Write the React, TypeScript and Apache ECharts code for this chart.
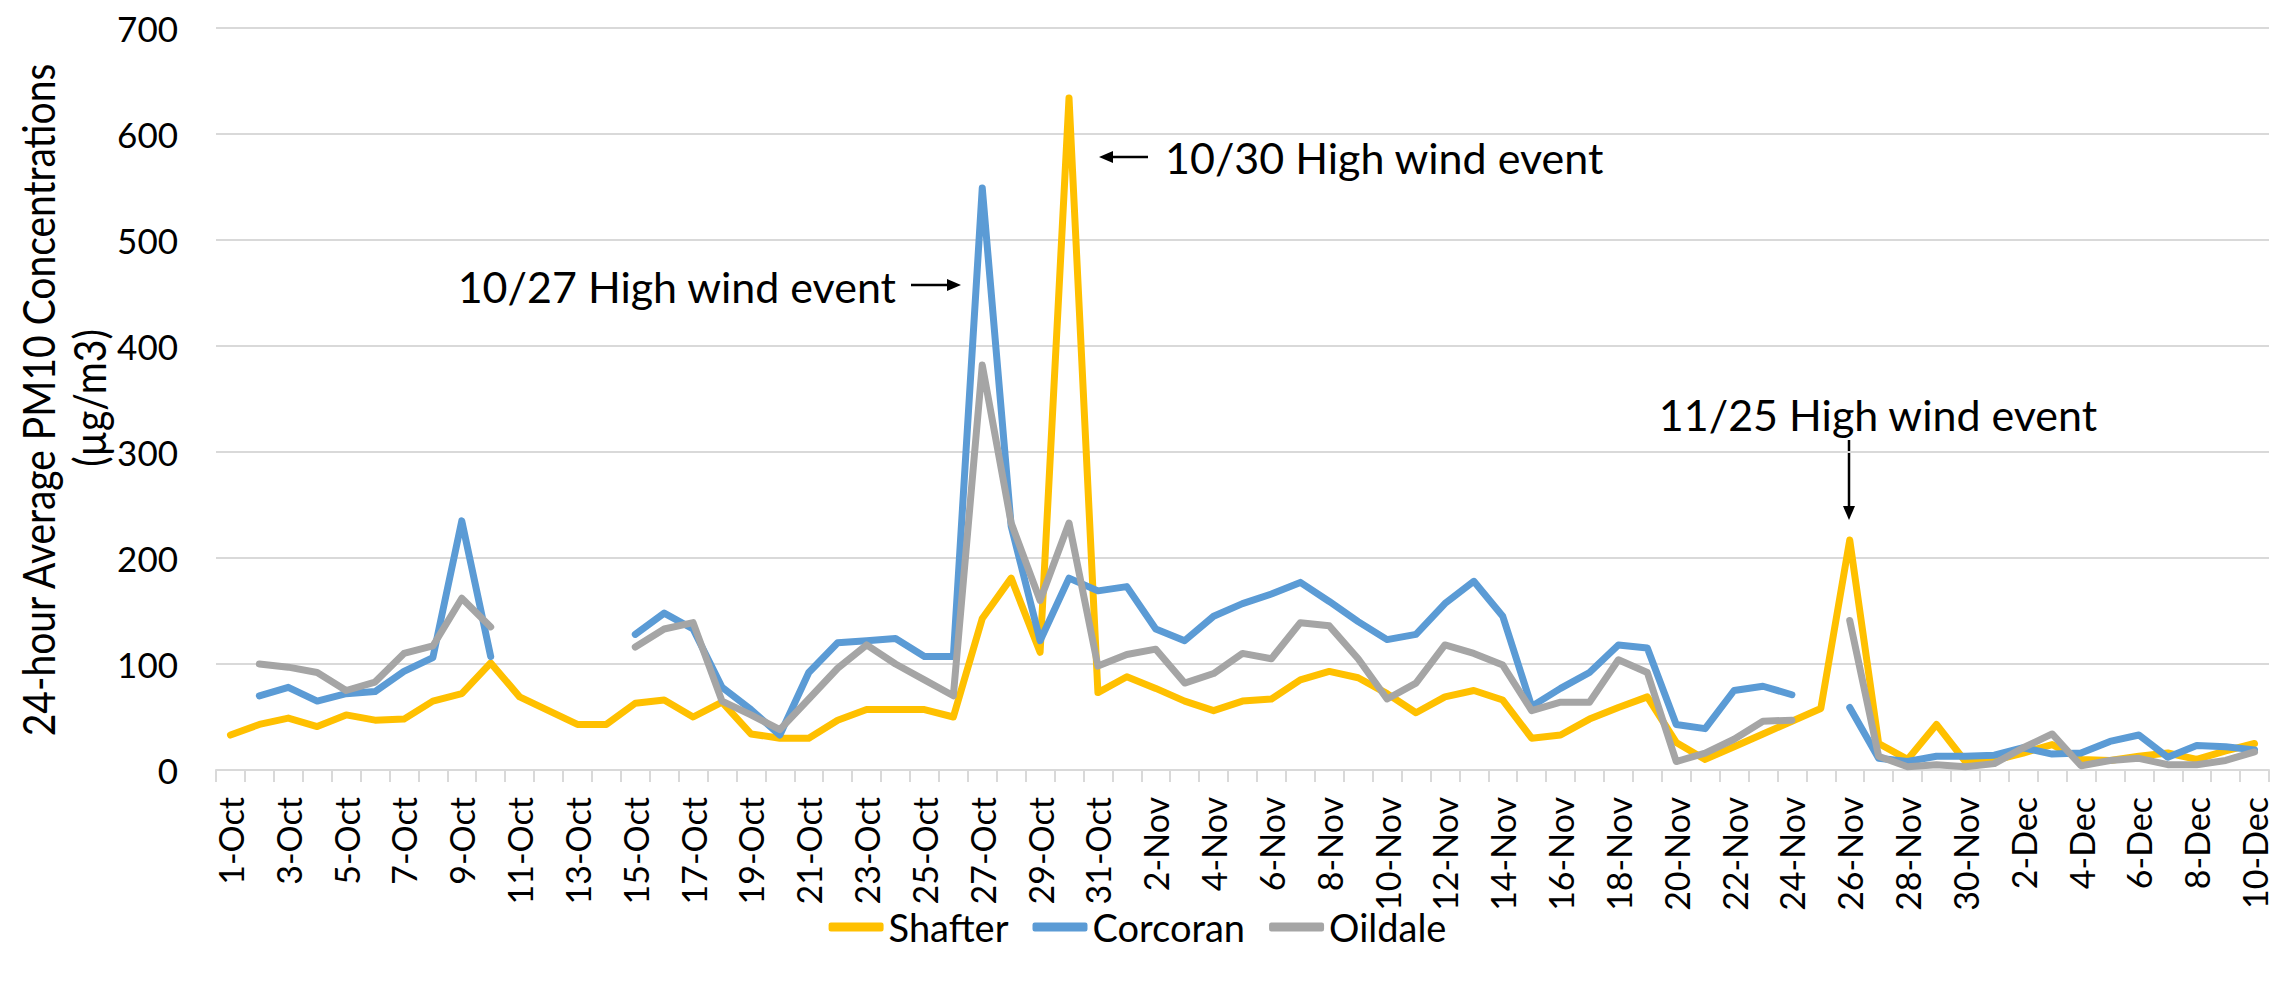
import React, { useEffect, useRef } from "react";
import * as echarts from "echarts";

const categories = [
  "1-Oct","2-Oct","3-Oct","4-Oct","5-Oct","6-Oct","7-Oct","8-Oct","9-Oct","10-Oct",
  "11-Oct","12-Oct","13-Oct","14-Oct","15-Oct","16-Oct","17-Oct","18-Oct","19-Oct","20-Oct",
  "21-Oct","22-Oct","23-Oct","24-Oct","25-Oct","26-Oct","27-Oct","28-Oct","29-Oct","30-Oct","31-Oct",
  "1-Nov","2-Nov","3-Nov","4-Nov","5-Nov","6-Nov","7-Nov","8-Nov","9-Nov","10-Nov",
  "11-Nov","12-Nov","13-Nov","14-Nov","15-Nov","16-Nov","17-Nov","18-Nov","19-Nov","20-Nov",
  "21-Nov","22-Nov","23-Nov","24-Nov","25-Nov","26-Nov","27-Nov","28-Nov","29-Nov","30-Nov",
  "1-Dec","2-Dec","3-Dec","4-Dec","5-Dec","6-Dec","7-Dec","8-Dec","9-Dec","10-Dec",
];

const shafter = [
  33, 43, 49, 41, 52, 47, 48, 65, 72, 101,
  69, 56, 43, 43, 63, 66, 50, 64, 34, 30,
  30, 47, 57, 57, 57, 50, 143, 181, 111, 634, 73,
  88, 77, 65, 56, 65, 67, 85, 93, 87, 72,
  54, 69, 75, 66, 30, 33, 48, 59, 69, 26,
  10, 22, 34, 46, 58, 217, 25, 10, 43, 8,
  9, 16, 24, 10, 9, 13, 16, 10, 18, 25,
];

const corcoran = [
  null, 70, 78, 65, 72, 74, 93, 106, 235, 107,
  null, null, null, null, 128, 148, 133, 78, 57, 33,
  92, 120, 122, 124, 107, 107, 549, 230, 122, 181, 169,
  173, 133, 122, 145, 157, 166, 177, 159, 140, 123,
  128, 157, 178, 145, 60, 77, 92, 118, 115, 43,
  39, 75, 79, 71, null, 59, 11, 8, 13, 13,
  14, 21, 15, 16, 27, 33, 12, 23, 22, 19,
];

const oildale = [
  null, 100, 97, 92, 75, 83, 110, 117, 162, 135,
  null, null, null, null, 116, 133, 139, 65, 52, 38,
  67, 96, 118, 100, 85, 70, 382, 233, 160, 233, 98,
  109, 114, 82, 91, 110, 105, 139, 136, 105, 67,
  82, 118, 110, 99, 56, 64, 64, 104, 92, 8,
  16, 29, 46, 47, null, 141, 13, 3, 5, 3,
  6, 21, 34, 4, 9, 11, 5, 5, 9, 17,
];

const seriesNames = ["Shafter", "Corcoran", "Oildale"];
const seriesColors = ["#FFC000", "#5B9BD5", "#A5A5A5"];
const yTitle = ["24-hour Average PM10 Concentrations", "(µg/m3)"];
const notes = ["10/27 High wind event", "10/30 High wind event", "11/25 High wind event"];

const annoFont = "43px Lato";

function textEl(text: string, x: number, y: number, align: string, font: string, rotation = 0, scaleY = 1) {
  return {
    type: "text",
    x,
    y,
    rotation,
    scaleY,
    silent: true,
    style: {
      text,
      x: 0,
      y: 0,
      font,
      fill: "#000",
      align,
      textAlign: align,
      verticalAlign: "middle",
      textVerticalAlign: "middle",
    },
  };
}

function lineEl(x1: number, y1: number, x2: number, y2: number) {
  return {
    type: "line",
    silent: true,
    shape: { x1, y1, x2, y2 },
    style: { stroke: "#000", lineWidth: 2.5 },
  };
}

function triEl(points: number[][]) {
  return {
    type: "polygon",
    silent: true,
    shape: { points },
    style: { fill: "#000" },
  };
}

export default function App() {
  const ref = useRef<HTMLDivElement>(null);

  useEffect(() => {
    if (!ref.current) return;
    const chart = echarts.init(ref.current, undefined, { renderer: "svg" });
    const data = [shafter, corcoran, oildale];
    chart.setOption({
      animation: false,
      backgroundColor: "#fff",
      grid: { left: 216, right: 6, top: 28, bottom: 219, containLabel: false },
      legend: {
        data: seriesNames,
        bottom: 38,
        left: "center",
        icon: "roundRect",
        itemWidth: 55,
        itemHeight: 9,
        itemGap: 24,
        textStyle: { fontFamily: "Lato", fontSize: 38, color: "#000", padding: [0, 0, 0, 0] },
      },
      xAxis: {
        type: "category",
        data: categories,
        boundaryGap: true,
        axisLine: { lineStyle: { color: "#D9D9D9", width: 2 } },
        axisTick: { show: true, interval: 0, length: 12, lineStyle: { color: "#D9D9D9", width: 2 } },
        axisLabel: {
          interval: 1,
          rotate: 90,
          margin: 27,
          fontFamily: "Lato",
          fontSize: 34,
          color: "#000",
        },
        splitLine: { show: false },
      },
      yAxis: {
        type: "value",
        min: 0,
        max: 700,
        interval: 100,
        axisLine: { show: false },
        axisTick: { show: false },
        axisLabel: { margin: 38, fontFamily: "Lato", fontSize: 35, color: "#000" },
        splitLine: { lineStyle: { color: "#D9D9D9", width: 2 } },
      },
      series: seriesNames.map((name, i) => ({
        name,
        type: "line",
        data: data[i],
        connectNulls: false,
        symbol: "none",
        showSymbol: false,
        itemStyle: { color: seriesColors[i] },
        lineStyle: { color: seriesColors[i], width: 7, cap: "round", join: "round" },
      })),
      graphic: [
        textEl(yTitle[0], 38, 400, "center", "39px Lato", Math.PI / 2, 1.15),
        textEl(yTitle[1], 89, 398, "center", "39px Lato", Math.PI / 2, 1.15),
        textEl(notes[0], 896, 286, "right", annoFont),
        lineEl(911, 285, 950, 285),
        triEl([[961, 285], [947, 279], [947, 291]]),
        textEl(notes[1], 1165, 157, "left", annoFont),
        lineEl(1110, 157, 1148, 157),
        triEl([[1099, 157], [1113, 151], [1113, 163]]),
        textEl(notes[2], 1878, 414, "center", annoFont),
        lineEl(1849, 440, 1849, 508),
        triEl([[1849, 520], [1843, 506], [1855, 506]]),
      ],
    });
    return () => chart.dispose();
  }, []);

  return (
    <div
      ref={ref}
      style={{ position: "absolute", left: 0, top: 0, width: 2275, height: 989 }}
    />
  );
}
